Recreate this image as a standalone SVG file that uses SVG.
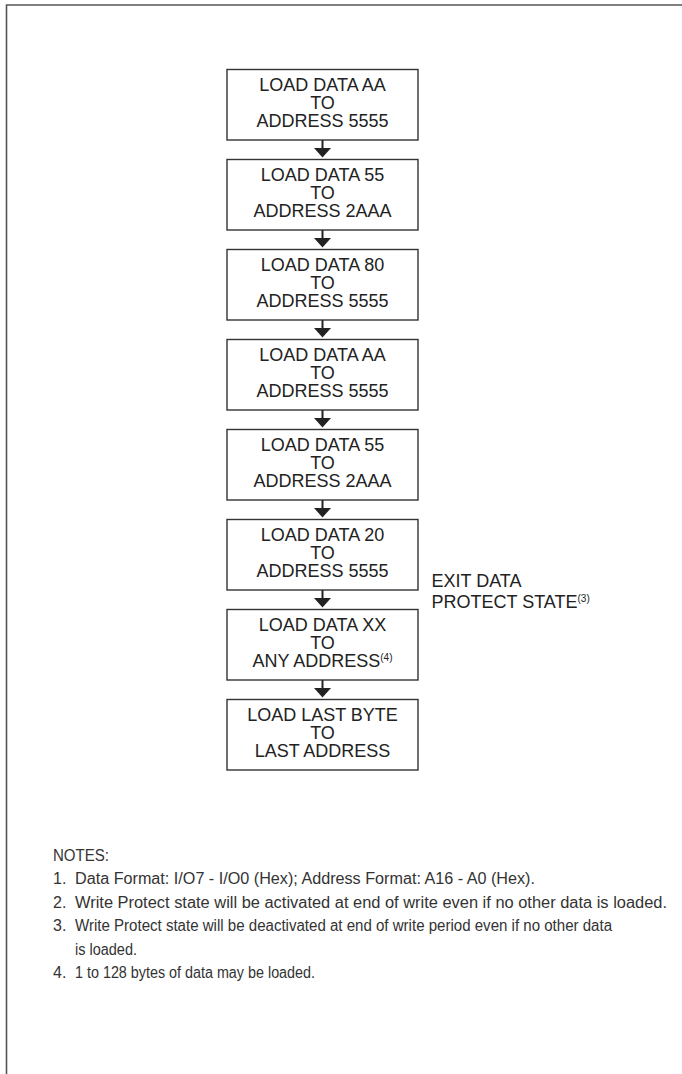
<svg xmlns="http://www.w3.org/2000/svg" width="682" height="1074" viewBox="0 0 682 1074">
<style>
.frame{stroke:#555;stroke-width:1.6;fill:none}
.box{fill:#fff;stroke:#333;stroke-width:1.4}
.bt{font-family:"Liberation Sans",Arial,sans-serif;font-size:18px;fill:#222;text-anchor:middle}
.lbl{font-family:"Liberation Sans",Arial,sans-serif;font-size:18px;fill:#222}
.sup{font-size:10px}
.stem{stroke:#222;stroke-width:2}
.head{fill:#222}
.note{font-family:"Liberation Sans",Arial,sans-serif;font-size:16px;fill:#333}
</style>
<rect width="682" height="1074" fill="#fff"/>
<path class="frame" d="M6.5,1074 V5 H682"/>
<g id="connectors">
<line class="stem" x1="322.5" y1="140" x2="322.5" y2="149"/><polygon class="head" points="314,148 331,148 322.5,157.5"/>
<line class="stem" x1="322.5" y1="230" x2="322.5" y2="239"/><polygon class="head" points="314,238 331,238 322.5,247.5"/>
<line class="stem" x1="322.5" y1="320" x2="322.5" y2="329"/><polygon class="head" points="314,328 331,328 322.5,337.5"/>
<line class="stem" x1="322.5" y1="410" x2="322.5" y2="419"/><polygon class="head" points="314,418 331,418 322.5,427.5"/>
<line class="stem" x1="322.5" y1="500" x2="322.5" y2="509"/><polygon class="head" points="314,508 331,508 322.5,517.5"/>
<line class="stem" x1="322.5" y1="590" x2="322.5" y2="599"/><polygon class="head" points="314,598 331,598 322.5,607.5"/>
<line class="stem" x1="322.5" y1="680" x2="322.5" y2="689"/><polygon class="head" points="314,688 331,688 322.5,697.5"/>
</g>
<g id="n1"><rect class="box" x="227" y="69.5" width="191" height="70.5"/>
<text class="bt"><tspan x="322.5" y="91">LOAD DATA AA</tspan><tspan x="322.5" y="109">TO</tspan><tspan x="322.5" y="127">ADDRESS 5555</tspan></text></g>
<g id="n2"><rect class="box" x="227" y="159.5" width="191" height="70.5"/>
<text class="bt"><tspan x="322.5" y="181">LOAD DATA 55</tspan><tspan x="322.5" y="199">TO</tspan><tspan x="322.5" y="217">ADDRESS 2AAA</tspan></text></g>
<g id="n3"><rect class="box" x="227" y="249.5" width="191" height="70.5"/>
<text class="bt"><tspan x="322.5" y="271">LOAD DATA 80</tspan><tspan x="322.5" y="289">TO</tspan><tspan x="322.5" y="307">ADDRESS 5555</tspan></text></g>
<g id="n4"><rect class="box" x="227" y="339.5" width="191" height="70.5"/>
<text class="bt"><tspan x="322.5" y="361">LOAD DATA AA</tspan><tspan x="322.5" y="379">TO</tspan><tspan x="322.5" y="397">ADDRESS 5555</tspan></text></g>
<g id="n5"><rect class="box" x="227" y="429.5" width="191" height="70.5"/>
<text class="bt"><tspan x="322.5" y="451">LOAD DATA 55</tspan><tspan x="322.5" y="469">TO</tspan><tspan x="322.5" y="487">ADDRESS 2AAA</tspan></text></g>
<g id="n6"><rect class="box" x="227" y="519.5" width="191" height="70.5"/>
<text class="bt"><tspan x="322.5" y="541">LOAD DATA 20</tspan><tspan x="322.5" y="559">TO</tspan><tspan x="322.5" y="577">ADDRESS 5555</tspan></text></g>
<g id="n7"><rect class="box" x="227" y="609.5" width="191" height="70.5"/>
<text class="bt"><tspan x="322.5" y="631">LOAD DATA XX</tspan><tspan x="322.5" y="649">TO</tspan></text>
<text class="bt" x="322.5" y="667">ANY ADDRESS<tspan class="sup" dy="-6">(4)</tspan></text></g>
<g id="n8"><rect class="box" x="227" y="699.5" width="191" height="70.5"/>
<text class="bt"><tspan x="322.5" y="721">LOAD LAST BYTE</tspan><tspan x="322.5" y="739">TO</tspan><tspan x="322.5" y="757">LAST ADDRESS</tspan></text></g>
<g id="exit-label">
<text class="lbl" x="431.5" y="587">EXIT DATA</text>
<text class="lbl" x="431.5" y="607.5">PROTECT STATE<tspan class="sup" dy="-6">(3)</tspan></text>
</g>
<g id="notes">
<text class="note" x="53" y="860.5" textLength="56" lengthAdjust="spacingAndGlyphs">NOTES:</text>
<text class="note" x="53" y="884">1.</text><text class="note" x="75" y="884" textLength="460" lengthAdjust="spacingAndGlyphs">Data Format:  I/O7 - I/O0 (Hex); Address Format:  A16 - A0 (Hex).</text>
<text class="note" x="53" y="907.5">2.</text><text class="note" x="75" y="907.5" textLength="592" lengthAdjust="spacingAndGlyphs">Write Protect state will be activated at end of write even if no other data is loaded.</text>
<text class="note" x="53" y="931">3.</text><text class="note" x="75" y="931" textLength="537" lengthAdjust="spacingAndGlyphs">Write Protect state will be deactivated at end of write period even if no other data</text>
<text class="note" x="75" y="954.5" textLength="62" lengthAdjust="spacingAndGlyphs">is loaded.</text>
<text class="note" x="53" y="978">4.</text><text class="note" x="75" y="978" textLength="240" lengthAdjust="spacingAndGlyphs">1 to 128 bytes of data may be loaded.</text>
</g>
</svg>
